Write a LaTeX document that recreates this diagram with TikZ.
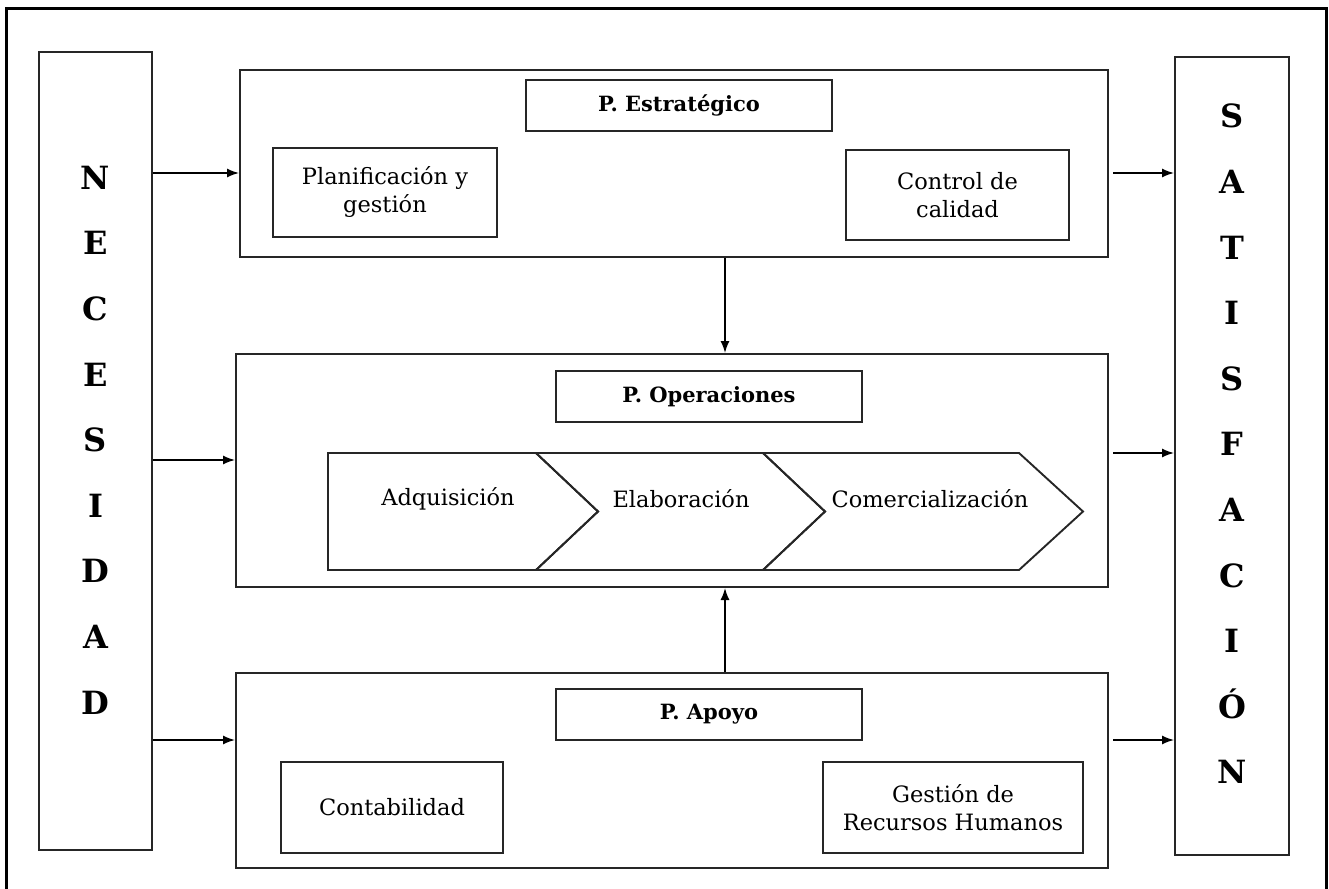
\documentclass[tikz,border=0pt]{standalone}
\usepackage{fontspec}
\setmainfont{DejaVu Serif}
\usepackage{tikz}
\usetikzlibrary{positioning,arrows.meta}
\tikzset{
  frame/.style    = {draw=black, line width=3pt},
  column/.style   = {draw=black!85, line width=2pt, minimum width=113pt, minimum height=798pt, inner sep=0pt},
  letters/.style  = {font=\fontsize{32}{65.6}\selectfont\bfseries, align=center, inner sep=0pt},
  panel/.style    = {draw=black!85, line width=2pt, inner sep=0pt},
  hdr/.style      = {draw=black!85, line width=1.9pt, minimum width=306pt, minimum height=51pt, inner sep=0pt, font=\fontsize{21}{26}\selectfont\bfseries},
  item/.style     = {draw=black!85, line width=1.9pt, inner sep=0pt, align=center, font=\fontsize{22.5}{28}\selectfont},
  chev/.style     = {draw=black!85, line width=1.9pt, line join=miter},
  lbl/.style      = {font=\fontsize{22.5}{28}\selectfont, inner sep=0pt},
  arrowto/.style  = {-{Latex[length=12pt,width=9pt]}, draw=black, line width=1.5pt},
}

\begin{document}
\begin{tikzpicture}[x=1pt,y=-1pt]
  \useasboundingbox (0,0) rectangle (1329,888);
  \clip (0,0) rectangle (1329,888);
  \draw[frame] (6,9) rectangle (1326,900);

  % side columns
  \node[column] (nec) at (95.5,451) {};
  \node[letters] (necl) at (95.5,440) {N\\E\\C\\E\\S\\I\\D\\A\\D};
  \node[column, minimum width=114pt] (sat) at (1232,456) {};
  \node[letters] (satl) at (1232,444) {S\\A\\T\\I\\S\\F\\A\\C\\I\\Ó\\N};

  % strategic
  \node[panel, minimum width=868pt, minimum height=187pt] (est) at (674,163.5) {};
  \node[hdr] (esthdr) at (679,105.5) {P. Estratégico};
  \node[item, minimum width=224pt, minimum height=89pt] (plan) at (385,192.5) {Planificación y\\gestión};
  \node[item, minimum width=223pt, minimum height=90pt] (ctrl) at (957.5,195) {Control de\\calidad};

  % operations
  \node[panel, minimum width=872pt, minimum height=233pt] (op) at (672,470.5) {};
  \node[hdr] (ophdr) at (709,396.5) {P. Operaciones};
  \draw[chev] (328,453) -- (536,453) -- (598,511.5) -- (536,570) -- (328,570) -- cycle;
  \draw[chev] (536,453) -- (763,453) -- (825,511.5) -- (763,570) -- (536,570) -- (598,511.5) -- cycle;
  \draw[chev] (763,453) -- (1019,453) -- (1083,511.5) -- (1019,570) -- (763,570) -- (825,511.5) -- cycle;
  \node[lbl] (adq) at (448,499) {Adquisición};
  \node[lbl] (ela) at (681,499) {Elaboración};
  \node[lbl] (com) at (930,499) {Comercialización};

  % support
  \node[panel, minimum width=872pt, minimum height=195pt] (ap) at (672,770.5) {};
  \node[hdr] (aphdr) at (709,714.5) {P. Apoyo};
  \node[item, minimum width=222pt, minimum height=91pt] (cont) at (392,807.5) {Contabilidad};
  \node[item, minimum width=260pt, minimum height=91pt] (rrhh) at (953,807.5) {Gestión de\\Recursos Humanos};

  % connectors
  \coordinate (c) at (725,0);
  \coordinate (r1) at (0,173);
  \coordinate (r2) at (0,460);
  \coordinate (r3) at (0,453);
  \coordinate (r4) at (0,740);
  \draw[arrowto] (nec.east |- r1) -- (est.west |- r1);
  \draw[arrowto, shorten <=4pt] (est.east |- r1) -- (sat.west |- r1);
  \draw[arrowto] (nec.east |- r2) -- (op.west |- r2);
  \draw[arrowto, shorten <=4pt] (op.east |- r3) -- (sat.west |- r3);
  \draw[arrowto] (nec.east |- r4) -- (ap.west |- r4);
  \draw[arrowto, shorten <=4pt] (ap.east |- r4) -- (sat.west |- r4);
  \draw[arrowto] (est.south -| c) -- (op.north -| c);
  \draw[arrowto] (ap.north -| c) -- (op.south -| c);
\end{tikzpicture}
\end{document}
